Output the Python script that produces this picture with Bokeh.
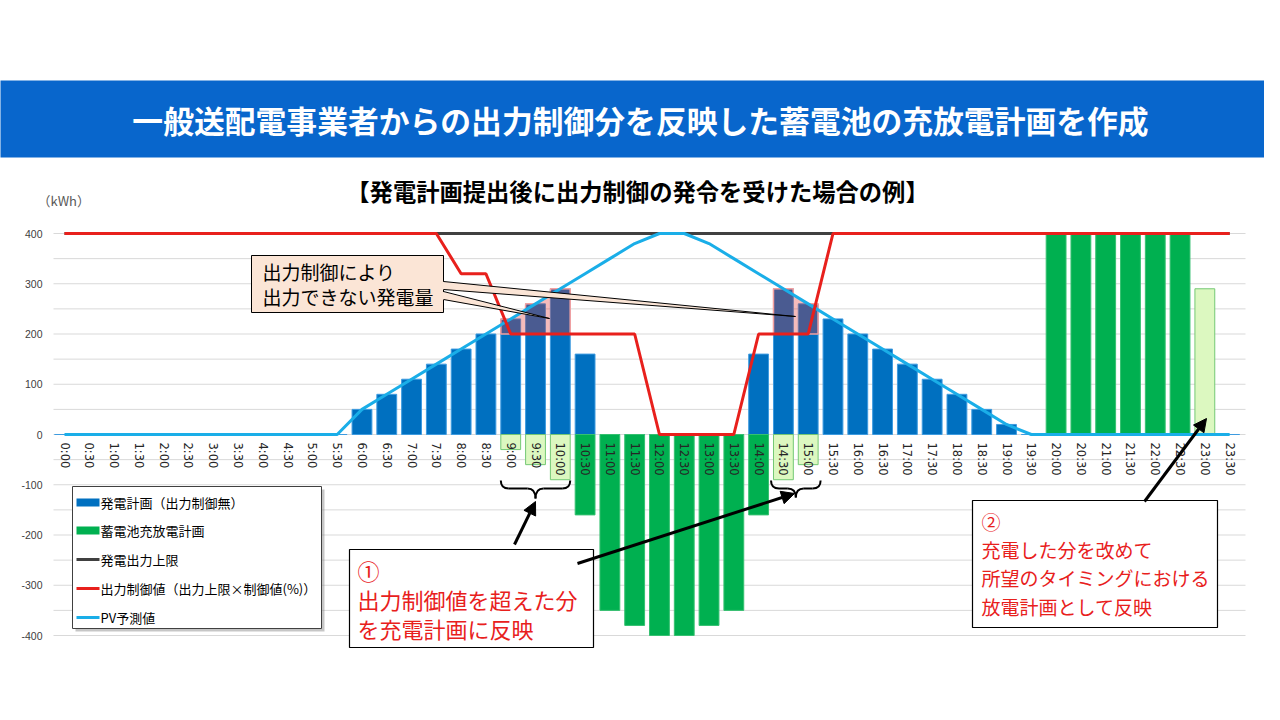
import numpy as np
from bokeh.plotting import figure
from bokeh.models import Range1d, Arrow, NormalHead
from bokeh.embed import file_html
from bokeh.resources import INLINE
from bokeh.core.properties import value

# ---------------- data ----------------
times = [f"{h}:{m:02d}" for h in range(24) for m in (0, 30)]

plan = [0, 0, 0, 0, 0, 0, 0, 0, 0, 0, 0, 0,
        50, 80, 110, 140, 170, 200, 230, 260, 290, 160, 0, 0,
        0, 0, 0, 0, 160, 290, 260, 230, 200, 170, 140, 110,
        80, 50, 20, 0, 0, 0, 0, 0, 0, 0, 0, 0]

battery = [0, 0, 0, 0, 0, 0, 0, 0, 0, 0, 0, 0,
           0, 0, 0, 0, 0, 0, -30, -60, -90, -160, -350, -380,
           -400, -400, -380, -350, -160, -90, -60, 0, 0, 0, 0, 0,
           0, 0, 0, 0, 400, 400, 400, 400, 400, 400, 290, 0]

limit = [400] * 48

ctrl = [400, 400, 400, 400, 400, 400, 400, 400, 400, 400, 400, 400,
        400, 400, 400, 400, 320, 320, 200, 200, 200, 200, 200, 200,
        0, 0, 0, 0, 200, 200, 200, 400, 400, 400, 400, 400,
        400, 400, 400, 400, 400, 400, 400, 400, 400, 400, 400, 400]

pv = [0, 0, 0, 0, 0, 0, 0, 0, 0, 0, 0, 0,
      50, 80, 110, 140, 170, 200, 230, 260, 290, 320, 350, 380,
      400, 400, 380, 350, 320, 290, 260, 230, 200, 170, 140, 110,
      80, 50, 20, 0, 0, 0, 0, 0, 0, 0, 0, 0]

light_slots = ["9:00", "9:30", "10:00", "14:30", "15:00", "23:00"]
yticks = [400, 300, 200, 100, 0, -100, -200, -300, -400]

legend_labels = ["発電計画（出力制御無）", "蓄電池充放電計画", "発電出力上限",
                 "出力制御値（出力上限×制御値(%)）", "PV予測値"]

title_text = "一般送配電事業者からの出力制御分を反映した蓄電池の充放電計画を作成"
subtitle_text = "【発電計画提出後に出力制御の発令を受けた場合の例】"

# ---------------- colours ----------------
BLUE = "#0070c0"
GREEN = "#00b050"
LGREEN = "#dcf8c0"
RED = "#e8201c"
PVC = "#1aaee8"
DARK = "#404040"
JP = "Noto Sans CJK JP"

# pixel -> data helpers (layout only)
def X(px):
    return (px - 64.0) / 24.79

def Y(py):
    return (434.0 - py) / 0.5025

W, H = 1264, 704
p = figure(width=W, height=H, x_range=Range1d(X(0), X(W)),
           y_range=Range1d(Y(H), Y(0)), output_backend="svg",
           toolbar_location=None, x_axis_location=None, y_axis_location=None,
           min_border=0, title=None)
p.outline_line_color = None
p.background_fill_color = "white"
p.grid.visible = False

idx = list(range(48))

# gridlines
for v in range(-400, 401, 50):
    p.segment(x0=[X(53)], x1=[X(1245)], y0=[v], y1=[v], line_color="#d9d9d9", line_width=1)

# bars
p.vbar(x=idx, top=plan, bottom=0, width=0.8, fill_color=BLUE, line_color="#3d9be0", line_width=1)
dark_i = [i for i in idx if battery[i] != 0 and times[i] not in light_slots]
light_i = [i for i in idx if battery[i] != 0 and times[i] in light_slots]
p.vbar(x=dark_i, top=[battery[i] for i in dark_i], bottom=0, width=0.8,
       fill_color=GREEN, line_color="#35c070", line_width=1)
p.vbar(x=light_i, top=[battery[i] for i in light_i], bottom=0, width=0.8,
       fill_color=LGREEN, line_color="#74c874", line_width=1)

# curtailed overlay (between control value and plan/pv)
curt = [i for i in idx if plan[i] > ctrl[i]]
groups = []
for i in curt:
    if groups and i == groups[-1][-1] + 1:
        groups[-1].append(i)
    else:
        groups.append([i])
for g in groups:
    xs = np.linspace(g[0] - 0.4, g[-1] + 0.4, 300)
    pvi = np.interp(xs, idx, pv)
    bt = np.full_like(xs, -1e9)
    for i in g:
        m = np.abs(xs - i) <= 0.4
        bt[m] = plan[i]
    top = np.minimum(max(plan[i] for i in g), np.maximum(pvi, bt))
    bottom = min(ctrl[i] for i in g)
    top = np.maximum(top, bottom)
    px_ = list(xs) + list(xs[::-1])
    py_ = list(top) + [bottom] * len(xs)
    p.patch(px_, py_, fill_color="#e03030", fill_alpha=0.33, line_color="#f4a0a0", line_width=1.5)

# lines
p.line(idx, limit, line_color=DARK, line_width=3)
p.line(idx, pv, line_color=PVC, line_width=3)
p.line(idx, ctrl, line_color=RED, line_width=3)

# x tick labels (rotated, along the zero line)
p.text(x=idx, y=[Y(442)] * 48, text=times, angle=-np.pi / 2, text_align="left",
       text_baseline="middle", text_font=value("DejaVu Sans"), text_font_size="11.5px",
       text_color="#262626")

# y tick labels
p.text(x=[X(42)] * len(yticks), y=yticks, text=[str(v) for v in yticks], text_align="right",
       text_baseline="middle", text_font=value("Liberation Sans"), text_font_size="10.5px",
       text_color="#404040")

def txt(px, py, s, size, color="black", align="left", bold=False, font=JP):
    p.text(x=[X(px)], y=[Y(py)], text=[s], text_font=value(font), text_font_size=f"{size}px",
           text_color=color, text_align=align, text_baseline="middle",
           text_font_style="bold" if bold else "normal")

txt(37, 200, "（kWh）", 13, color="#595959")

# braces
def brace(xl, xr, yt, yh, yp):
    r = 8 / 24.79
    xc = (xl + xr) / 2
    p.quadratic(x0=[xl, xc - r, xc, xr - r], y0=[yt, yh, yp, yh],
                x1=[xl + r, xc, xc + r, xr], y1=[yh, yp, yh, yt],
                cx=[xl, xc, xc, xr], cy=[yh, yh, yh, yh], line_color="black", line_width=2)
    p.segment(x0=[xl + r, xc + r], x1=[xc - r, xr - r], y0=[yh, yh], y1=[yh, yh],
              line_color="black", line_width=2)

i9 = times.index("9:00"); i10 = times.index("10:00")
i14 = times.index("14:30"); i15 = times.index("15:00")
brace(i9 - 0.4, i10 + 0.4, Y(480), Y(488), Y(498))
brace(i14 - 0.5, i15 + 0.5, Y(480), Y(488), Y(497))

# callout "出力制御により 出力できない発電量"
PEACH = "#fbe5d6"
p.quad(left=[X(251)], right=[X(443)], top=[Y(255)], bottom=[Y(312)],
       fill_color=PEACH, line_color="black", line_width=1)
wedges = [((443, 281), (443, 289), (795, 316)), ((443, 291), (443, 299), (549, 318))]
for a, b, t in wedges:
    p.patch([X(a[0] - 2), X(t[0]), X(b[0] - 2)], [Y(a[1]), Y(t[1]), Y(b[1])],
            fill_color=PEACH, line_color=None)
    p.segment(x0=[X(a[0]), X(b[0])], y0=[Y(a[1]), Y(b[1])], x1=[X(t[0])] * 2, y1=[Y(t[1])] * 2,
              line_color="black", line_width=1)
txt(262, 271, "出力制御により", 19)
txt(262, 296, "出力できない発電量", 19)

# box 1
p.quad(left=[X(349)], right=[X(593)], top=[Y(549)], bottom=[Y(647)],
       fill_color="white", line_color="black", line_width=1.2)
txt(357, 569, "①", 22, color=RED)
txt(357, 598, "出力制御値を超えた分", 22, color=RED)
txt(357, 627, "を充電計画に反映", 22, color=RED)

# box 2
p.quad(left=[X(972)], right=[X(1217)], top=[Y(500)], bottom=[Y(627)],
       fill_color="white", line_color="black", line_width=1.2)
txt(981, 521, "②", 19, color=RED)
txt(981, 549, "充電した分を改めて", 19, color=RED)
txt(981, 577, "所望のタイミングにおける", 19, color=RED)
txt(981, 606, "放電計画として反映", 19, color=RED)

# arrows
for (xs_, ys_), (xe, ye) in [((514, 544), (535, 501)), ((577, 563), (794, 493)),
                             ((1144, 501), (1206, 418))]:
    p.add_layout(Arrow(end=NormalHead(size=13, fill_color="black", line_color="black"),
                       x_start=X(xs_), y_start=Y(ys_), x_end=X(xe), y_end=Y(ye),
                       line_color="black", line_width=3))

# legend
p.quad(left=[X(75)], right=[X(324)], top=[Y(489)], bottom=[Y(631)],
       fill_color="#808080", fill_alpha=0.45, line_color=None)
p.quad(left=[X(72)], right=[X(321)], top=[Y(486)], bottom=[Y(628)],
       fill_color="white", line_color="#404040", line_width=1)
rows = [502, 530, 559, 588, 617]
p.quad(left=[X(76)], right=[X(99)], top=[Y(498)], bottom=[Y(506)], fill_color=BLUE, line_color=None)
p.quad(left=[X(76)], right=[X(99)], top=[Y(526)], bottom=[Y(534)], fill_color=GREEN, line_color=None)
for r, c in zip(rows[2:], [DARK, RED, PVC]):
    p.segment(x0=[X(76)], x1=[X(99)], y0=[Y(r)], y1=[Y(r)], line_color=c, line_width=3)
for r, s in zip(rows, legend_labels):
    txt(100, r, s, 13)

# title band & subtitle
p.quad(left=[X(-10)], right=[X(1300)], top=[Y(80)], bottom=[Y(157)], fill_color="#0866cc", line_color=None)
txt(640, 119, title_text, 30.8, color="white", align="center", bold=True)
txt(637, 190, subtitle_text, 23.3, color="black", align="center", bold=True)

open("out.html", "w").write(file_html(p, INLINE))
